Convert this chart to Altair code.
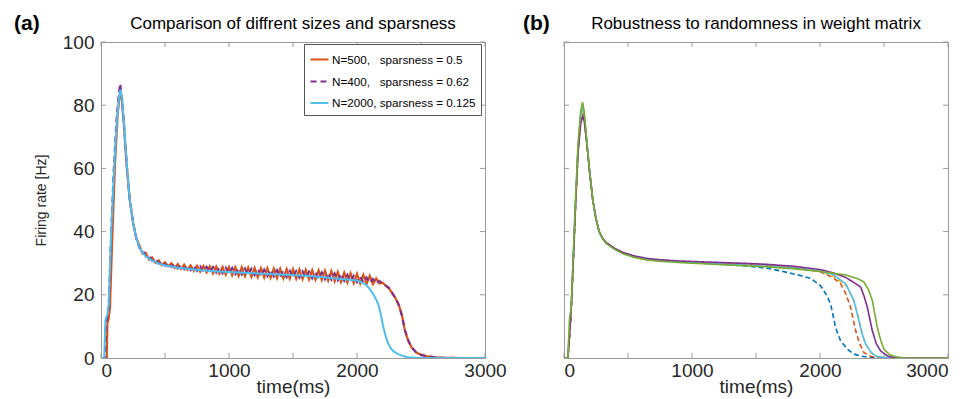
import altair as alt
import pandas as pd

# ---------------- data: panel (a) ----------------
a_names = ["N=500,\u00a0\u00a0\u00a0sparsness = 0.5",
           "N=400,\u00a0\u00a0\u00a0sparsness = 0.62",
           "N=2000, sparsness = 0.125"]
a_colors = ["#D95319", "#7E2F8E", "#4DBEEE"]

plateau_t = list(range(300, 2200, 25))

red_rise_t = [0, 45, 50, 60, 70, 90, 110, 130, 148, 162, 180, 200, 225, 250, 275]
red_rise_v = [0, 0, 11, 12.5, 16, 40, 62, 77, 84, 82, 73, 61, 50, 43, 38]
red_plat_v = [35.6, 33.0, 33.2, 31.2, 31.8, 30.1, 30.9, 29.4, 30.3, 29.0,
              30.0, 28.5, 29.7, 28.2, 29.5, 27.9, 29.3, 27.6, 29.2, 27.3,
              29.1, 27.1, 29.0, 26.8, 28.9, 26.7, 28.8, 26.4, 28.8, 26.2,
              28.7, 26.0, 28.7, 25.9, 28.6, 25.7, 28.5, 25.6, 28.4, 25.5,
              28.4, 25.4, 28.3, 25.3, 28.2, 25.2, 28.1, 25.1, 28.1, 25.1,
              28.0, 25.0, 27.9, 24.9, 27.8, 24.8, 27.7, 24.7, 27.6, 24.5,
              27.5, 24.3, 27.2, 24.1, 27.0, 23.9, 26.8, 23.7, 26.6, 23.6,
              26.3, 23.5, 26.0, 23.4, 25.2, 23.6]
red_fall_t = [2200, 2250, 2297, 2325, 2349, 2375, 2400, 2427, 2460, 2500, 2550, 2650, 2800, 3000]
red_fall_v = [23.8, 22.0, 19.2, 17.0, 13.9, 8.6, 5.5, 3.3, 1.8, 1.0, 0.5, 0.1, 0, 0]

pur_rise_t = [0, 30, 38, 50, 60, 80, 100, 120, 140, 150, 165, 180, 200, 225, 250, 275]
pur_rise_v = [0, 0, 11, 13, 16, 40, 60, 75, 84, 86.8, 82, 74, 62, 50, 43, 38]
pur_plat_v = [34.8, 34.2, 32.2, 32.4, 30.8, 31.3, 29.9, 30.6, 29.2, 30.1,
              28.8, 29.8, 28.4, 29.5, 28.1, 29.3, 27.8, 29.2, 27.6, 29.0,
              27.4, 28.9, 27.2, 28.8, 27.0, 28.7, 26.8, 28.6, 26.7, 28.5,
              26.5, 28.4, 26.4, 28.3, 26.3, 28.2, 26.2, 28.1, 26.0, 28.0,
              25.9, 27.9, 25.8, 27.8, 25.7, 27.7, 25.6, 27.6, 25.5, 27.5,
              25.4, 27.4, 25.3, 27.3, 25.2, 27.2, 25.1, 27.1, 24.9, 26.9,
              24.8, 26.8, 24.6, 26.6, 24.4, 26.3, 24.2, 26.0, 24.0, 25.8,
              23.9, 25.5, 23.8, 25.0, 23.6, 24.4]
pur_fall_t = [2200, 2250, 2300, 2325, 2350, 2375, 2400, 2425, 2460, 2500, 2550, 2650, 2800, 3000]
pur_fall_v = [23.6, 22.2, 19.0, 16.8, 13.5, 8.8, 5.6, 3.5, 1.9, 1.0, 0.5, 0.1, 0, 0]

blu_t = [0, 25, 35, 50, 60, 80, 100, 120, 140, 152, 165, 180, 200, 225, 250, 275,
         300, 325, 350, 400, 450, 500, 600, 700, 800, 900, 1000, 1200, 1400, 1600,
         1700, 1800, 1900, 2000, 2037, 2075, 2100, 2125, 2150, 2170, 2185, 2206,
         2225, 2245, 2270, 2300, 2323, 2360, 2400, 2500, 3000]
blu_v = [0, 0, 12, 14, 17, 40, 58, 73, 82, 85, 82, 74, 62, 50, 43, 38,
         35, 33.3, 32.2, 30.8, 29.9, 29.3, 28.6, 28.1, 27.7, 27.4, 27.2, 26.8, 26.4, 26.0,
         25.7, 25.3, 24.9, 24.5, 24.0, 23.0, 21.8, 20.3, 18.5, 16.5, 14.0, 9.7,
         6.8, 4.4, 2.7, 1.7, 1.2, 0.6, 0.2, 0, 0]

# ---------------- data: panel (b) ----------------
b_names = ["b1", "b2", "b3", "b4", "b5", "b6"]
b_colors = ["#0072BD", "#D95319", "#EDB120", "#4DBEEE", "#7E2F8E", "#77AC30"]
b_dash = [[5, 3], [5, 3], [5, 3], [1, 0], [1, 0], [1, 0]]

b1_t = [0, 30, 40, 55, 70, 90, 110, 130, 145, 158, 175, 200, 225, 250, 275, 300, 331, 400, 461, 550,
        650, 748, 900, 1100, 1300, 1456, 1600, 1700, 1847, 1926, 2004, 2050, 2083, 2122, 2160, 2214,
        2260, 2318, 2400, 2500, 3000]
b1_v = [0, 0, 5, 14, 28, 48, 66, 75, 77, 75.5, 69.5, 59, 50, 44, 40, 37.9, 36.3, 34.3, 33.1, 32,
        31.2, 30.8, 30.4, 30.0, 29.5, 29.0, 28.3, 27.5, 26.1, 25.2, 22.9, 20, 17.1, 9.6, 5.5, 2.8,
        1.3, 0.6, 0.1, 0, 0]
b2_t = [0, 30, 40, 55, 70, 90, 110, 130, 145, 158, 175, 200, 225, 250, 275, 300, 331, 400, 461, 550,
        650, 748, 900, 1100, 1300, 1456, 1600, 1800, 2000, 2100, 2161, 2200, 2239, 2279, 2310, 2344,
        2400, 2500, 3000]
b2_v = [0, 0, 5, 14, 28, 48, 66, 75, 77.5, 76, 69.5, 59, 50, 44, 40, 37.9, 36.4, 34.5, 33.3, 32.1,
        31.3, 30.9, 30.5, 30.1, 29.8, 29.5, 29.2, 28.5, 27.3, 25.5, 23.5, 20.5, 16, 8.6, 4.5, 1.7,
        0.5, 0, 0]
b3_t = [0, 30, 40, 55, 70, 90, 110, 130, 145, 158, 175, 200, 225, 250, 275, 300, 331, 400, 461, 550,
        650, 748, 900, 1100, 1300, 1456, 1600, 1800, 2000, 2100, 2213, 2260, 2300, 2318, 2350, 2396,
        2450, 2550, 3000]
b3_v = [0, 0, 5, 14, 28, 48, 66, 75, 78, 76.5, 70, 59, 50, 44, 40, 37.9, 36.4, 34.5, 33.3, 32.1,
        31.3, 30.9, 30.5, 30.1, 29.8, 29.5, 29.2, 28.6, 27.5, 26, 22.6, 18.5, 13, 9.6, 5, 1.7,
        0.5, 0, 0]
b4_t = [0, 30, 45, 55, 70, 90, 110, 130, 145, 158, 175, 200, 225, 250, 275, 300, 331, 400, 461, 550,
        650, 748, 900, 1100, 1300, 1456, 1600, 1800, 2000, 2100, 2200, 2265, 2304, 2330, 2357, 2400,
        2440, 2550, 3000]
b4_v = [0, 0, 13, 15, 30, 50, 67, 77, 80, 77, 70, 59, 50, 44, 40, 37.8, 36.3, 34.4, 33.1, 32,
        31.2, 30.8, 30.4, 30.0, 29.6, 29.3, 29.0, 28.4, 27.5, 26.5, 23.5, 18.2, 11.8, 7.5, 4.4, 1.8,
        0.5, 0, 0]
b5_t = [0, 30, 40, 55, 70, 90, 110, 130, 145, 158, 175, 200, 225, 250, 275, 300, 331, 400, 461, 550,
        650, 748, 900, 1100, 1300, 1456, 1600, 1800, 2000, 2100, 2200, 2280, 2318, 2345, 2370, 2409,
        2440, 2474, 2530, 2600, 3000]
b5_v = [0, 0, 5, 14, 28, 48, 65, 74, 76.5, 75, 69, 59, 50, 44, 40, 38, 36.5, 34.6, 33.4, 32.3,
        31.5, 31.1, 30.7, 30.4, 30.1, 29.9, 29.6, 29.0, 28.0, 27.0, 25.5, 23.5, 22.4, 19.5, 16, 8.6,
        4.5, 2.2, 0.6, 0, 0]
b6_t = [0, 30, 45, 55, 70, 90, 110, 130, 145, 158, 175, 200, 225, 250, 275, 300, 331, 400, 461, 550,
        650, 748, 900, 1100, 1300, 1456, 1600, 1800, 2000, 2200, 2300, 2344, 2380, 2409, 2430, 2448,
        2475, 2500, 2540, 2580, 2650, 3000]
b6_v = [0, 0, 13, 15, 30, 50, 68, 78, 81, 78, 70, 59, 50, 44, 40, 37.8, 36.2, 34.3, 33, 31.8,
        31.0, 30.6, 30.2, 29.8, 29.4, 29.1, 28.8, 28.2, 27.4, 26.3, 25, 24, 21.5, 18.2, 13.5, 9.6,
        5.5, 2.8, 1.2, 0.5, 0, 0]

x_ticks = [0, 500, 1000, 1500, 2000, 2500, 3000]
x_labels = [0, 1000, 2000, 3000]
y_ticks = [0, 20, 40, 60, 80, 100]

# ---------------- build tables ----------------
def rows(name, ts, vs):
    return [{"s": name, "t": t, "v": v} for t, v in zip(ts, vs)]

a_rows = []
a_rows += rows(a_names[0], red_rise_t + plateau_t + red_fall_t, red_rise_v + red_plat_v + red_fall_v)
a_rows += rows(a_names[1], pur_rise_t + plateau_t + pur_fall_t, pur_rise_v + pur_plat_v + pur_fall_v)
a_rows += rows(a_names[2], blu_t, blu_v)
df_a = pd.DataFrame(a_rows)

b_rows = []
for nm, ts, vs in zip(b_names, [b1_t, b2_t, b3_t, b4_t, b5_t, b6_t], [b1_v, b2_v, b3_v, b4_v, b5_v, b6_v]):
    b_rows += rows(nm, ts, vs)
df_b = pd.DataFrame(b_rows)

W, H = 384, 316
TICK = 5
FRAME = "#9a9a9a"
FONT = "Liberation Sans"
TXT = "#262626"

xs = alt.Scale(domain=[0, 3000], nice=False, zero=False)
ys = alt.Scale(domain=[0, 100], nice=False)


def x_axis(align_expr):
    return alt.Axis(values=x_labels, ticks=False, domain=False, grid=False, labelFontSize=19,
                    labelPadding=3, labelFlush=False,
                    labelAlign=alt.ExprRef(expr=align_expr),
                    title="time(ms)", titleFontSize=19, titlePadding=-3,
                    titleFontWeight="normal", format="d")


def panel(df, field_names, colors, dashes, widths, legend, y_axis, xax, tag, tag_x, title):
    X = alt.X("t:Q", scale=xs, axis=xax)
    Y = alt.Y("v:Q", scale=ys, axis=y_axis)
    xt = pd.DataFrame({"t": x_ticks})
    yt = pd.DataFrame({"v": y_ticks})
    layers = [
        alt.Chart(xt).mark_rule(color=FRAME, strokeWidth=1).encode(x=X, y=alt.value(H), y2=alt.value(H - TICK)),
        alt.Chart(xt).mark_rule(color=FRAME, strokeWidth=1).encode(x=X, y=alt.value(0), y2=alt.value(TICK)),
        alt.Chart(yt).mark_rule(color=FRAME, strokeWidth=1).encode(y=Y, x=alt.value(0), x2=alt.value(TICK)),
        alt.Chart(yt).mark_rule(color=FRAME, strokeWidth=1).encode(y=Y, x=alt.value(W), x2=alt.value(W - TICK)),
    ]
    for nm in field_names:
        layers.append(
            alt.Chart(df).transform_filter(alt.datum.s == nm).mark_line(clip=True).encode(
                x=X, y=Y,
                color=alt.Color("s:N", scale=alt.Scale(domain=field_names, range=colors), legend=legend),
                strokeDash=alt.StrokeDash("s:N", scale=alt.Scale(domain=field_names, range=dashes), legend=legend),
                strokeWidth=alt.StrokeWidth("s:N", scale=alt.Scale(domain=field_names, range=widths), legend=None),
            )
        )
    layers.append(
        alt.Chart(pd.DataFrame({"l": [tag]})).mark_text(
            font=FONT, fontSize=21, fontWeight="bold", color="#000", align="left", baseline="alphabetic"
        ).encode(text="l:N", x=alt.value(tag_x), y=alt.value(-12))
    )
    layers.append(
        alt.Chart(pd.DataFrame({"l": [title]})).mark_text(
            font=FONT, fontSize=17, color="#000", align="center", baseline="alphabetic"
        ).encode(text="l:N", x=alt.value(W / 2), y=alt.value(-13))
    )
    return alt.layer(*layers).properties(width=W, height=H)


legend_a = alt.Legend(title=None, orient="none", legendX=203, legendY=2, strokeColor="#555",
                      fillColor="white", padding=5, labelFontSize=11.7, labelFont=FONT, labelColor="#000",
                      symbolType="stroke", symbolSize=324, symbolStrokeWidth=2, labelOffset=2,
                      rowPadding=4, labelLimit=300)

y_axis_a = alt.Axis(values=y_ticks, ticks=False, domain=False, grid=False, labelFontSize=19,
                    labelPadding=7, title="Firing rate [Hz]", titleFontSize=14, titlePadding=14,
                    titleFontWeight="normal")

pa = panel(df_a, a_names, a_colors, [[1, 0], [6, 4], [1, 0]], [2.2, 2, 3], legend_a, y_axis_a,
           x_axis("datum.value == 0 ? 'left' : 'center'"),
           "(a)", -87, "Comparison of diffrent sizes and sparsness")
pb = panel(df_b, b_names, b_colors, b_dash, [1.6] * 6, None, None,
           x_axis("datum.value == 0 ? 'left' : (datum.value == 3000 ? 'right' : 'center')"),
           "(b)", -41, "Robustness to randomness in weight matrix")

chart = alt.hconcat(pa, pb, spacing=79, bounds="flush").resolve_scale(
    color="independent", strokeDash="independent", strokeWidth="independent"
).properties(
    padding={"left": 5, "top": 4, "right": 0, "bottom": 0}
).configure_view(stroke=FRAME, strokeWidth=1).configure_axis(
    labelFont=FONT, titleFont=FONT, labelColor=TXT, titleColor=TXT
)

chart.save("out.html", embed_options={"renderer": "svg", "actions": False})
